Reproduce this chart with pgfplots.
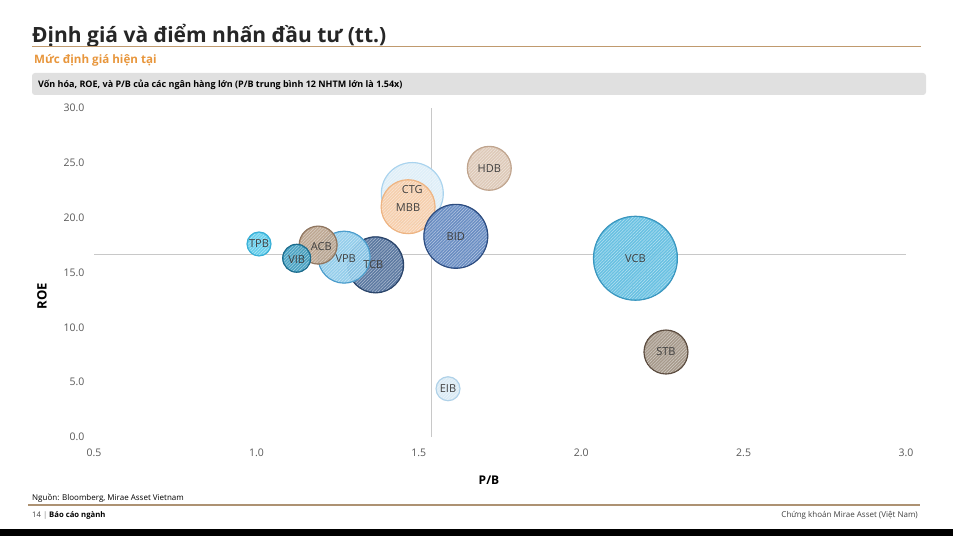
\documentclass[border=0pt]{standalone}
\usepackage{fontspec}
\setmainfont{Open Sans}
\usepackage{pgfplots}
\usepackage{pgfplotstable}
\usetikzlibrary{patterns.meta}
\pgfplotsset{compat=1.18}
\definecolor{titlec}{HTML}{262626}
\definecolor{orangec}{HTML}{E8963C}
\definecolor{rulec}{HTML}{C09A6E}
\definecolor{boxc}{HTML}{E0E0E0}
\definecolor{tickc}{HTML}{595959}
\definecolor{labc}{HTML}{404040}
\definecolor{refc}{HTML}{C8C8C8}
% bubble colours: fill / border
\definecolor{fTPB}{HTML}{5CCBEB}\definecolor{dTPB}{HTML}{3AAFD6}
\definecolor{fVIB}{HTML}{3D9DBF}\definecolor{dVIB}{HTML}{1F6A8A}
\definecolor{fACB}{HTML}{B8A089}\definecolor{dACB}{HTML}{8E7560}
\definecolor{fVPB}{HTML}{8CCAEA}\definecolor{dVPB}{HTML}{4C9CCB}
\definecolor{fTCB}{HTML}{4F6E9A}\definecolor{dTCB}{HTML}{2B4468}
\definecolor{fCTG}{HTML}{DDEEF8}\definecolor{dCTG}{HTML}{A9D3EE}
\definecolor{fMBB}{HTML}{F7CDA8}\definecolor{dMBB}{HTML}{EDB483}
\definecolor{fBID}{HTML}{5E85BE}\definecolor{dBID}{HTML}{2E4C7E}
\definecolor{fHDB}{HTML}{DCC6B4}\definecolor{dHDB}{HTML}{BFA48E}
\definecolor{fVCB}{HTML}{5DBCE0}\definecolor{dVCB}{HTML}{3B95BD}
\definecolor{fSTB}{HTML}{A09283}\definecolor{dSTB}{HTML}{5B4C40}
\definecolor{fEIB}{HTML}{D8EAF5}\definecolor{dEIB}{HTML}{AFD1E8}
\newcommand{\bub}[4]{%
  \addplot[only marks, mark=*, mark size=#4, color=f#1,
    mark options={fill=f#1, draw=none, fill opacity=0.92}]
    coordinates {(#2,#3)};
  \addplot[only marks, mark=*, mark size=#4-0.5, color=f#1,
    mark options={draw=none, line width=0pt, pattern={Lines[angle=45, distance=2.2pt, line width=0.5pt]}, pattern color=f#1!45!white}]
    coordinates {(#2,#3)};
  \addplot[only marks, mark=o, mark size=#4, color=d#1,
    mark options={draw=d#1, line width=1.1pt}]
    coordinates {(#2,#3)};}
\pgfplotstableread{
x     y     label
1.48  22.6  CTG
1.467 20.9  MBB
1.614 18.3  BID
1.36  15.7  TCB
1.275 16.3  VPB
1.20  17.4  ACB
1.124 16.2  VIB
1.008 17.6  TPB
1.717 24.5  HDB
2.167 16.3  VCB
2.261 7.75  STB
1.59  4.4   EIB
}\labels
\begin{document}
\begin{tikzpicture}[x=1pt,y=1pt]
\fill[white] (0,0) rectangle (953,536);
\fill[black] (0,0) rectangle (953,7);
% title
\node[anchor=base west, inner sep=0, font=\bfseries\fontsize{21}{25}\selectfont, text=titlec] at (32,493) {Định giá và điểm nhấn đầu tư (tt.)};
\draw[rulec, line width=1pt] (32,489) -- (921,489);
\node[anchor=base west, inner sep=0, font=\bfseries\fontsize{11.6}{13}\selectfont, text=orangec] at (34,472) {Mức định giá hiện tại};
\fill[boxc, rounded corners=3pt] (32,441) rectangle (926,463);
\node[anchor=base west, inner sep=0, font=\bfseries\fontsize{9}{10}\selectfont, text=black] at (38,448.5) {Vốn hóa, ROE, và P/B của các ngân hàng lớn (P/B trung bình 12 NHTM lớn là 1.54x)};
% axis labels
\node[rotate=90, font=\bfseries\fontsize{13}{15}\selectfont, text=black] at (42,240) {ROE};
\node[font=\bfseries\fontsize{12}{14}\selectfont, text=black] at (489,56) {P/B};
% footer
\node[anchor=base west, inner sep=0, font=\fontsize{8}{9}\selectfont, text=black] at (32,35.5) {Nguồn: Bloomberg, Mirae Asset Vietnam};
\draw[rulec!70!gray, line width=1.2pt] (28,31) -- (920,31);
\node[anchor=base west, inner sep=0, font=\fontsize{7.7}{9}\selectfont, text=labc] at (32,18.5) {14 \textcolor{gray}{|} \textbf{\textcolor{black}{Báo cáo ngành}}};
\node[anchor=base east, inner sep=0, font=\fontsize{8}{9}\selectfont, text=labc] at (918,18.5) {Chứng khoán Mirae Asset (Việt Nam)};
\begin{axis}[at={(94pt,99pt)}, anchor=south west, scale only axis,
  width=812pt, height=329pt,
  xmin=0.5, xmax=3, ymin=0, ymax=30,
  xtick={0.5,1,1.5,2,2.5,3}, ytick={0,5,10,15,20,25,30},
  axis line style={draw=none}, major tick length=0pt,
  clip=false,
  /pgf/number format/.cd, fixed, fixed zerofill, precision=1, assume math mode=true,
  /pgfplots/.cd,
  xticklabel style={font=\fontsize{10.5}{12}\selectfont, text=tickc, yshift=-8pt},
  yticklabel style={font=\fontsize{10.5}{12}\selectfont, text=tickc, xshift=-6pt},
]
\addplot[refc, line width=1pt] coordinates {(1.54,0) (1.54,30)};
\addplot[refc, line width=1pt] coordinates {(0.5,16.6) (3,16.6)};
\bub{CTG}{1.48}{22.2}{31}
\bub{MBB}{1.467}{21.0}{27}
\bub{BID}{1.614}{18.3}{32}
\bub{TCB}{1.367}{15.7}{28}
\bub{VPB}{1.27}{16.4}{26}
\bub{ACB}{1.19}{17.5}{19}
\bub{VIB}{1.124}{16.3}{14}
\bub{TPB}{1.008}{17.6}{12}
\bub{HDB}{1.717}{24.5}{22}
\bub{VCB}{2.167}{16.3}{42}
\bub{STB}{2.261}{7.75}{22}
\bub{EIB}{1.59}{4.4}{12}
\addplot[only marks, mark=none, draw=none,
  nodes near coords, point meta=explicit symbolic,
  every node near coord/.append style={anchor=center, font=\fontsize{11}{13}\selectfont, text=labc}]
  table[x=x, y=y, meta=label] {\labels};
\end{axis}
\end{tikzpicture}
\end{document}
